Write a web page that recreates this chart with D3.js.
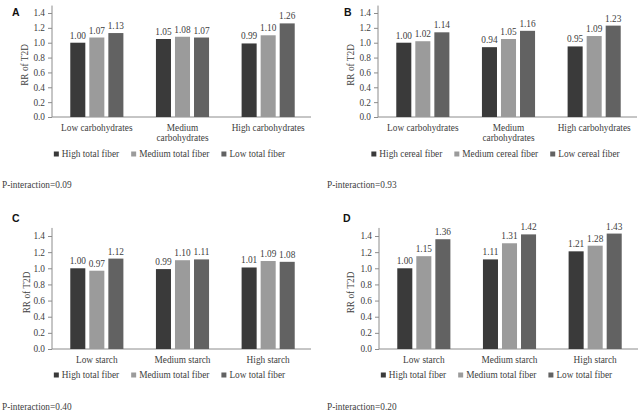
<!DOCTYPE html>
<html>
<head>
<meta charset="utf-8">
<script src="https://cdn.jsdelivr.net/npm/d3@7"></script>
<style>
  body { margin: 0; background: #fff; }
  svg text { font-family: "Liberation Serif", "Times New Roman", serif; }
</style>
</head>
<body>
<div id="chart"></div>
<script>
// data
const carbCategories = ["Low carbohydrates", "Medium\ncarbohydrates", "High carbohydrates"];
const starchCategories = ["Low starch", "Medium starch", "High starch"];
const totalFiberSeries = ["High total fiber", "Medium total fiber", "Low total fiber"];
const cerealFiberSeries = ["High cereal fiber", "Medium cereal fiber", "Low cereal fiber"];

// values[category][series]
const valuesA = [[1.00, 1.07, 1.13], [1.05, 1.08, 1.07], [0.99, 1.10, 1.26]];
const valuesB = [[1.00, 1.02, 1.14], [0.94, 1.05, 1.16], [0.95, 1.09, 1.23]];
const valuesC = [[1.00, 0.97, 1.12], [0.99, 1.10, 1.11], [1.01, 1.09, 1.08]];
const valuesD = [[1.00, 1.15, 1.36], [1.11, 1.31, 1.42], [1.21, 1.28, 1.43]];

const panelLetters = ["A", "B", "C", "D"];
const pInteraction = ["0.09", "0.93", "0.40", "0.20"];
const yTicks = [0, 0.2, 0.4, 0.6, 0.8, 1.0, 1.2, 1.4];
const yLabel = "RR of T2D";

const colors = ["#3a3a3a", "#9b9b9b", "#626262"];
const textColor = "#404040";
const axisColor = "#8c8c8c";
const fs = 9.3;

const width = 640;
const height = 414;

const svg = d3.select("#chart")
    .append("svg")
    .attr("width", width)
    .attr("height", height);

// layout of each panel (pixels)
const panels = [
    { values: valuesA, cats: carbCategories, series: totalFiberSeries, axisX: 52, y0: 117, y14: 13, catY: 131, legY: 154, pX: 2, pY: 188, letX: 12, letY: 16, labX: 28 },
    { values: valuesB, cats: carbCategories, series: cerealFiberSeries, axisX: 378, y0: 117, y14: 13, catY: 131, legY: 154, pX: 327, pY: 188, letX: 344, letY: 16, labX: 354 },
    { values: valuesC, cats: starchCategories, series: totalFiberSeries, axisX: 52, y0: 349, y14: 236, catY: 363, legY: 375, pX: 2, pY: 410, letX: 12, letY: 222, labX: 30 },
    { values: valuesD, cats: starchCategories, series: totalFiberSeries, axisX: 379, y0: 349, y14: 236, catY: 363, legY: 375, pX: 327, pY: 410, letX: 343, letY: 222, labX: 354 }
];

panels.forEach((p, i) => {
    const g = svg.append("g");
    const right = p.axisX + 259;

    const yScale = d3.scaleLinear()
        .domain([0, 1.4])
        .range([p.y0, p.y14]);

    const xScale = d3.scaleBand()
        .domain(d3.range(p.cats.length))
        .range([p.axisX + 2, right])
        .paddingInner(0.38)
        .paddingOuter(0.19);

    const xSub = d3.scaleBand()
        .domain(d3.range(p.series.length))
        .range([0, xScale.bandwidth()])
        .paddingInner(0.21);

    // y axis
    const yAxis = g.append("g")
        .attr("transform", `translate(${p.axisX},0)`)
        .call(d3.axisLeft(yScale).tickValues(yTicks).tickSize(4).tickSizeOuter(0)
              .tickFormat(d3.format(".1f")));
    yAxis.select(".domain").remove();
    yAxis.append("line")
        .attr("y1", yScale(0))
        .attr("y2", yScale(1.5))
        .attr("stroke", axisColor);
    yAxis.selectAll(".tick line").attr("stroke", axisColor);
    yAxis.selectAll(".tick text")
        .attr("fill", textColor)
        .style("font-size", fs + "px")
        .style("font-family", "Liberation Serif");

    // x baseline
    g.append("line")
        .attr("x1", p.axisX)
        .attr("x2", right)
        .attr("y1", yScale(0))
        .attr("y2", yScale(0))
        .attr("stroke", axisColor);

    // bars
    const groups = g.selectAll(".grp")
        .data(p.values)
        .join("g")
        .attr("transform", (d, ci) => `translate(${xScale(ci)},0)`);

    groups.selectAll("rect")
        .data(d => d)
        .join("rect")
        .attr("x", (d, si) => xSub(si))
        .attr("width", xSub.bandwidth())
        .attr("y", d => yScale(d))
        .attr("height", d => yScale(0) - yScale(d))
        .attr("fill", (d, si) => colors[si]);

    groups.selectAll("text")
        .data(d => d)
        .join("text")
        .attr("x", (d, si) => xSub(si) + xSub.bandwidth() / 2)
        .attr("y", d => yScale(d) - 4)
        .attr("text-anchor", "middle")
        .style("font-size", fs + "px")
        .attr("fill", textColor)
        .text(d => d3.format(".2f")(d));

    // category labels
    p.cats.forEach((c, ci) => {
        const t = g.append("text")
            .attr("x", xScale(ci) + xScale.bandwidth() / 2)
            .attr("y", p.catY)
            .attr("text-anchor", "middle")
            .style("font-size", fs + "px")
            .attr("fill", textColor);
        c.split("\n").forEach((line, li) => {
            t.append("tspan")
                .attr("x", xScale(ci) + xScale.bandwidth() / 2)
                .attr("dy", li === 0 ? 0 : 10)
                .text(line);
        });
    });

    // y label
    g.append("text")
        .attr("transform", `translate(${p.labX},${(p.y0 + p.y14) / 2}) rotate(-90)`)
        .attr("text-anchor", "middle")
        .style("font-size", fs + "px")
        .attr("fill", textColor)
        .text(yLabel);

    // legend
    const leg = g.append("g");
    let lx = 0;
    p.series.forEach((s, si) => {
        leg.append("rect")
            .attr("x", lx)
            .attr("y", p.legY - 2.5)
            .attr("width", 5)
            .attr("height", 5)
            .attr("fill", colors[si]);
        const t = leg.append("text")
            .attr("x", lx + 8)
            .attr("y", p.legY + 3.3)
            .style("font-size", fs + "px")
            .attr("fill", textColor)
            .text(s);
        lx += 8 + t.node().getComputedTextLength() + 12;
    });
    const legW = lx - 12;
    const center = (p.axisX + right) / 2 - 12;
    leg.attr("transform", `translate(${center - legW / 2},0)`);

    // panel letter
    g.append("text")
        .attr("x", p.letX)
        .attr("y", p.letY)
        .style("font-family", "Liberation Sans, Arial, sans-serif")
        .style("font-weight", "bold")
        .style("font-size", "10.5px")
        .attr("fill", "#111")
        .text(panelLetters[i]);

    // interaction p-value
    g.append("text")
        .attr("x", p.pX)
        .attr("y", p.pY)
        .style("font-size", fs + "px")
        .attr("fill", textColor)
        .text("P-interaction=" + pInteraction[i]);
});
</script>
</body>
</html>
